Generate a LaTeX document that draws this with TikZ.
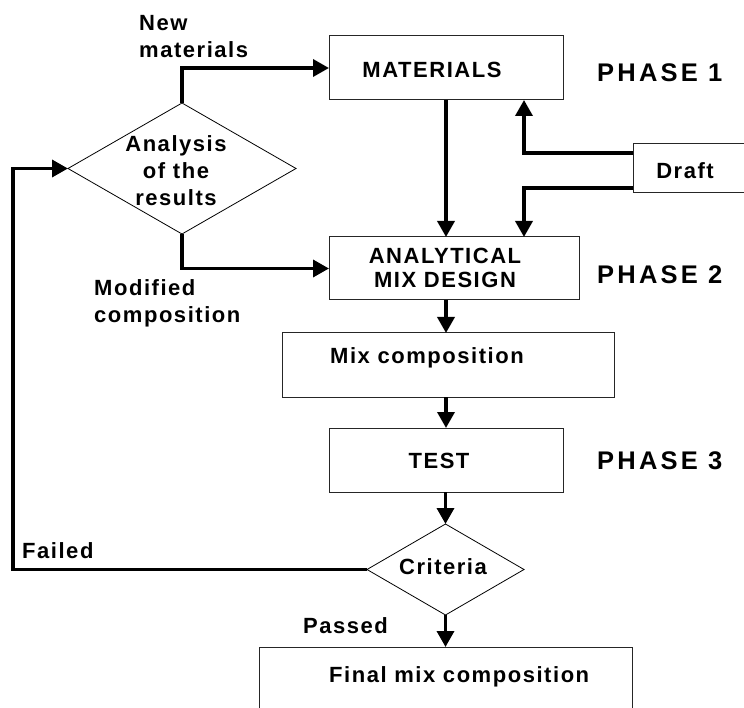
\documentclass[tikz,border=0pt]{standalone}
\usepackage{fontspec}
\setmainfont{Liberation Sans}[LetterSpace=7]
\newfontfamily\phasefont{Liberation Sans}[LetterSpace=12.5]
\usetikzlibrary{arrows.meta,shapes.geometric}
\begin{document}
\begin{tikzpicture}[x=1pt,y=-1pt,
  box/.style={draw=black!85,line width=1pt,inner sep=0pt,outer sep=0pt},
  dia/.style={draw=black,line width=0.8pt,diamond,inner sep=0pt,outer sep=0pt},
  txt/.style={inner sep=0pt,font=\fontsize{22}{27}\selectfont\bfseries},
  phase/.style={inner sep=0pt,anchor=west,font=\fontsize{25.5}{30}\selectfont\phasefont\bfseries},
  arr/.style={line width=3.5pt,-{Triangle[length=16pt,width=17pt]}}]
\clip (0,0) rectangle (744,708);
% boxes
\node[box,minimum width=234pt,minimum height=64pt] (mat) at (446,68) {};
\node[box,minimum width=250pt,minimum height=63pt] (amd) at (454,268.5) {};
\node[box,minimum width=332pt,minimum height=64pt] (mix) at (448,365) {};
\node[box,minimum width=234pt,minimum height=64pt] (test) at (446,460) {};
\node[box,minimum width=373pt,minimum height=90pt] (fin) at (445.5,692) {};
\node[box,minimum width=130pt,minimum height=49pt] (draft) at (698,168.5) {};
% diamonds
\node[dia,minimum width=228pt,minimum height=131pt] (an) at (182,168.5) {};
\node[dia,minimum width=157pt,minimum height=91pt] (crit) at (445.5,569.5) {};
% texts
\node[txt] (tmat) at (432,70) {MATERIALS};
\node[txt,align=center,font=\fontsize{22}{24}\selectfont\bfseries] (tamd) at (445,268) {ANALYTICAL\\MIX DESIGN};
\node[txt,anchor=west] (tmix) at (330,358) {Mix composition};
\node[txt] (ttest) at (439,461) {TEST};
\node[txt,anchor=west] (tfin) at (329,677) {Final mix composition};
\node[txt] (tdraft) at (685,171) {Draft};
\node[txt,align=center] (tan) at (176,170.5) {Analysis\\of the\\results};
\node[txt] (tcrit) at (443,567) {Criteria};
\node[txt,anchor=west,align=left] (tnew) at (139,36.5) {New\\materials};
\node[txt,anchor=west,align=left] (tmod) at (94,303.5) {Modified\\composition};
\node[txt,anchor=west] (tfail) at (22,551) {Failed};
\node[txt,anchor=west] (tpass) at (303,626) {Passed};
\node[phase] (p1) at (597,73) {PHASE 1};
\node[phase] (p2) at (597,275) {PHASE 2};
\node[phase] (p3) at (597,461) {PHASE 3};
% helper coordinates
\coordinate (dx) at (524,0);
\coordinate (fb) at (13,400);
% connectors
\draw[arr] (an.north) |- (mat.west);
\draw[arr] (an.south) |- (amd.west);
\draw[arr] (mat.south) -- (mat.south |- amd.north);
\draw[arr] ([yshift=15.5pt]draft.west) -| (dx |- mat.south);
\draw[arr] ([yshift=-19.5pt]draft.west) -| (dx |- amd.north);
\draw[arr] (amd.south -| mat.south) -- (mix.north -| mat.south);
\draw[arr] (mix.south -| mat.south) -- (test.north -| mat.south);
\draw[arr] (test.south -| crit.north) -- (crit.north);
\draw[arr] (crit.south) -- (crit.south |- fin.north);
\draw[arr] (crit.west) -| (fb) |- (an.west);
\end{tikzpicture}
\end{document}
